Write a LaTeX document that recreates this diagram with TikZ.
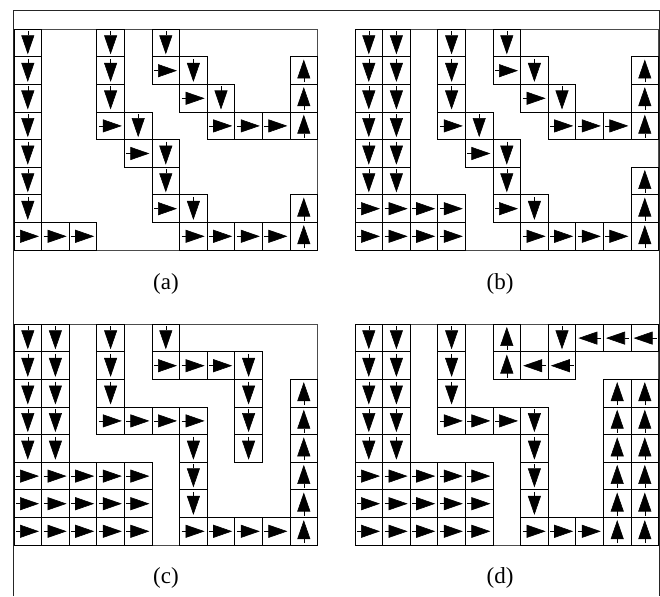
\documentclass[tikz,border=0pt]{standalone}
\usepackage{fontspec}
\setmainfont{Liberation Serif}
\usetikzlibrary{arrows.meta}
\tikzset{
  cellbox/.style={draw=black, line width=0.9pt},
  outerbox/.style={draw=black!70, line width=0.9pt},
  frameline/.style={draw=black!85, line width=0.9pt},
  arr/.style={line width=0.6pt, -{Triangle[length=19pt,width=13pt]}},
  lab/.style={font=\fontsize{23}{27}\selectfont, inner sep=0pt}
}
\def\CellS{27.6}
\newcommand\Dcell[2]{%
  \draw[cellbox] ({#1*\CellS},{#2*\CellS}) rectangle ++(\CellS,\CellS);
  \draw[arr] ({(#1+0.5)*\CellS},{#2*\CellS+2}) -- ({(#1+0.5)*\CellS},{#2*\CellS+25});}
\newcommand\Ucell[2]{%
  \draw[cellbox] ({#1*\CellS},{#2*\CellS}) rectangle ++(\CellS,\CellS);
  \draw[arr] ({(#1+0.5)*\CellS},{(#2+1)*\CellS-2}) -- ({(#1+0.5)*\CellS},{(#2+1)*\CellS-25});}
\newcommand\Rcell[2]{%
  \draw[cellbox] ({#1*\CellS},{#2*\CellS}) rectangle ++(\CellS,\CellS);
  \draw[arr] ({#1*\CellS+2},{(#2+0.5)*\CellS}) -- ({#1*\CellS+25},{(#2+0.5)*\CellS});}
\newcommand\Lcell[2]{%
  \draw[cellbox] ({#1*\CellS},{#2*\CellS}) rectangle ++(\CellS,\CellS);
  \draw[arr] ({(#1+1)*\CellS-2},{(#2+0.5)*\CellS}) -- ({(#1+1)*\CellS-25},{(#2+0.5)*\CellS});}
\begin{document}
\begin{tikzpicture}[x=1pt,y=-1pt]
\useasboundingbox (0,0) rectangle (660,596);
\draw[frameline] (13.5,596) -- (13.5,10) -- (659,10) -- (659,596);

% panel (a)
\begin{scope}[shift={(14,29.3)}]
\draw[outerbox] (0,0) rectangle ({11*\CellS},{8*\CellS});
\foreach \c/\r in {0/0,3/0,5/0,0/1,3/1,6/1,0/2,3/2,7/2,0/3,4/3,0/4,5/4,0/5,5/5,0/6,6/6} {\Dcell{\c}{\r}}
\foreach \c/\r in {5/1,6/2,3/3,7/3,8/3,9/3,4/4,5/6,0/7,1/7,2/7,6/7,7/7,8/7,9/7} {\Rcell{\c}{\r}}
\foreach \c/\r in {10/1,10/2,10/3,10/6,10/7} {\Ucell{\c}{\r}}
\end{scope}

% panel (b)
\begin{scope}[shift={(355,29.3)}]
\draw[outerbox] (0,0) rectangle ({11*\CellS},{8*\CellS});
\foreach \c/\r in {0/0,1/0,3/0,5/0,0/1,1/1,3/1,6/1,0/2,1/2,3/2,7/2,0/3,1/3,4/3,0/4,1/4,5/4,0/5,1/5,5/5,6/6} {\Dcell{\c}{\r}}
\foreach \c/\r in {5/1,6/2,3/3,7/3,8/3,9/3,4/4,0/6,1/6,2/6,3/6,5/6,0/7,1/7,2/7,3/7,6/7,7/7,8/7,9/7} {\Rcell{\c}{\r}}
\foreach \c/\r in {10/1,10/2,10/3,10/5,10/6,10/7} {\Ucell{\c}{\r}}
\end{scope}

% panel (c)
\begin{scope}[shift={(14,324.3)}]
\draw[outerbox] (0,0) rectangle ({11*\CellS},{8*\CellS});
\foreach \c/\r in {0/0,1/0,3/0,5/0,0/1,1/1,3/1,8/1,0/2,1/2,3/2,8/2,0/3,1/3,8/3,0/4,1/4,6/4,8/4,6/5,6/6} {\Dcell{\c}{\r}}
\foreach \c/\r in {5/1,6/1,7/1,3/3,4/3,5/3,6/3,0/5,1/5,2/5,3/5,4/5,0/6,1/6,2/6,3/6,4/6,0/7,1/7,2/7,3/7,4/7,6/7,7/7,8/7,9/7} {\Rcell{\c}{\r}}
\foreach \c/\r in {10/2,10/3,10/4,10/5,10/6,10/7} {\Ucell{\c}{\r}}
\end{scope}

% panel (d)
\begin{scope}[shift={(355,324.3)}]
\draw[outerbox] (0,0) rectangle ({11*\CellS},{8*\CellS});
\foreach \c/\r in {0/0,1/0,3/0,7/0,0/1,1/1,3/1,0/2,1/2,3/2,0/3,1/3,6/3,0/4,1/4,6/4,6/5,6/6} {\Dcell{\c}{\r}}
\foreach \c/\r in {3/3,4/3,5/3,0/5,1/5,2/5,3/5,4/5,0/6,1/6,2/6,3/6,4/6,0/7,1/7,2/7,3/7,4/7,6/7,7/7,8/7} {\Rcell{\c}{\r}}
\foreach \c/\r in {5/0,5/1,9/2,9/3,9/4,9/5,9/6,9/7,10/2,10/3,10/4,10/5,10/6,10/7} {\Ucell{\c}{\r}}
\foreach \c/\r in {8/0,9/0,10/0,6/1,7/1} {\Lcell{\c}{\r}}
\end{scope}

\node[lab] (la) at (166,284) {(a)};
\node[lab] (lb) at (500,284) {(b)};
\node[lab] (lc) at (166,578) {(c)};
\node[lab] (ld) at (500,578) {(d)};
\end{tikzpicture}
\end{document}
